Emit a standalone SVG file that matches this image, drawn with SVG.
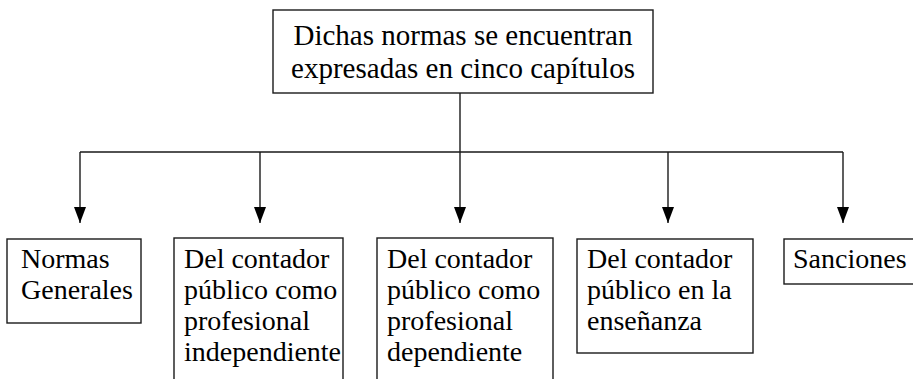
<svg xmlns="http://www.w3.org/2000/svg" width="913" height="379" viewBox="0 0 913 379">
<defs>
<style>
.box{fill:#fff;stroke:#1a1a1a;stroke-width:1.4}
.t{font-family:'Liberation Serif','DejaVu Serif','Times New Roman',serif;font-size:28px;fill:#000}
.tt{font-family:'Liberation Serif','DejaVu Serif','Times New Roman',serif;font-size:29px;fill:#000;text-anchor:middle}
.ln{fill:none;stroke:#1a1a1a;stroke-width:1.4}
</style>
<marker id="ah" markerWidth="16" markerHeight="12" refX="16" refY="6" orient="auto" markerUnits="userSpaceOnUse" viewBox="0 0 16 12">
<path d="M0,0 L16,6 L0,12 Z" fill="#000"/>
</marker>
</defs>
<rect width="913" height="379" fill="#fff"/>
<g id="root">
<rect class="box" x="273" y="10" width="380" height="83"/>
<text class="tt" x="463" y="45">Dichas normas se encuentran</text>
<text class="tt" x="463" y="78">expresadas en cinco capítulos</text>
</g>
<g id="connectors">
<path class="ln" d="M460,93 V152 M80,152 H843"/>
<path class="ln" d="M80,152 V223" marker-end="url(#ah)"/>
<path class="ln" d="M260,152 V223" marker-end="url(#ah)"/>
<path class="ln" d="M460,152 V223" marker-end="url(#ah)"/>
<path class="ln" d="M668,152 V223" marker-end="url(#ah)"/>
<path class="ln" d="M843,152 V223" marker-end="url(#ah)"/>
</g>
<g id="n1">
<rect class="box" x="7" y="239" width="134" height="84"/>
<text class="t" x="21" y="268">Normas</text>
<text class="t" x="21" y="299">Generales</text>
</g>
<g id="n2">
<rect class="box" x="174" y="238" width="169" height="150"/>
<text class="t" x="184" y="268">Del contador</text>
<text class="t" x="184" y="299">público como</text>
<text class="t" x="184" y="330">profesional</text>
<text class="t" x="184" y="361">independiente</text>
</g>
<g id="n3">
<rect class="box" x="377" y="238" width="176" height="150"/>
<text class="t" x="387" y="268">Del contador</text>
<text class="t" x="387" y="299">público como</text>
<text class="t" x="387" y="330">profesional</text>
<text class="t" x="387" y="361">dependiente</text>
</g>
<g id="n4">
<rect class="box" x="577" y="239" width="176" height="114"/>
<text class="t" x="587" y="268">Del contador</text>
<text class="t" x="587" y="299">público en la</text>
<text class="t" x="587" y="330">enseñanza</text>
</g>
<g id="n5">
<rect class="box" x="784" y="239" width="140" height="45"/>
<text class="t" x="793" y="268">Sanciones</text>
</g>
</svg>
